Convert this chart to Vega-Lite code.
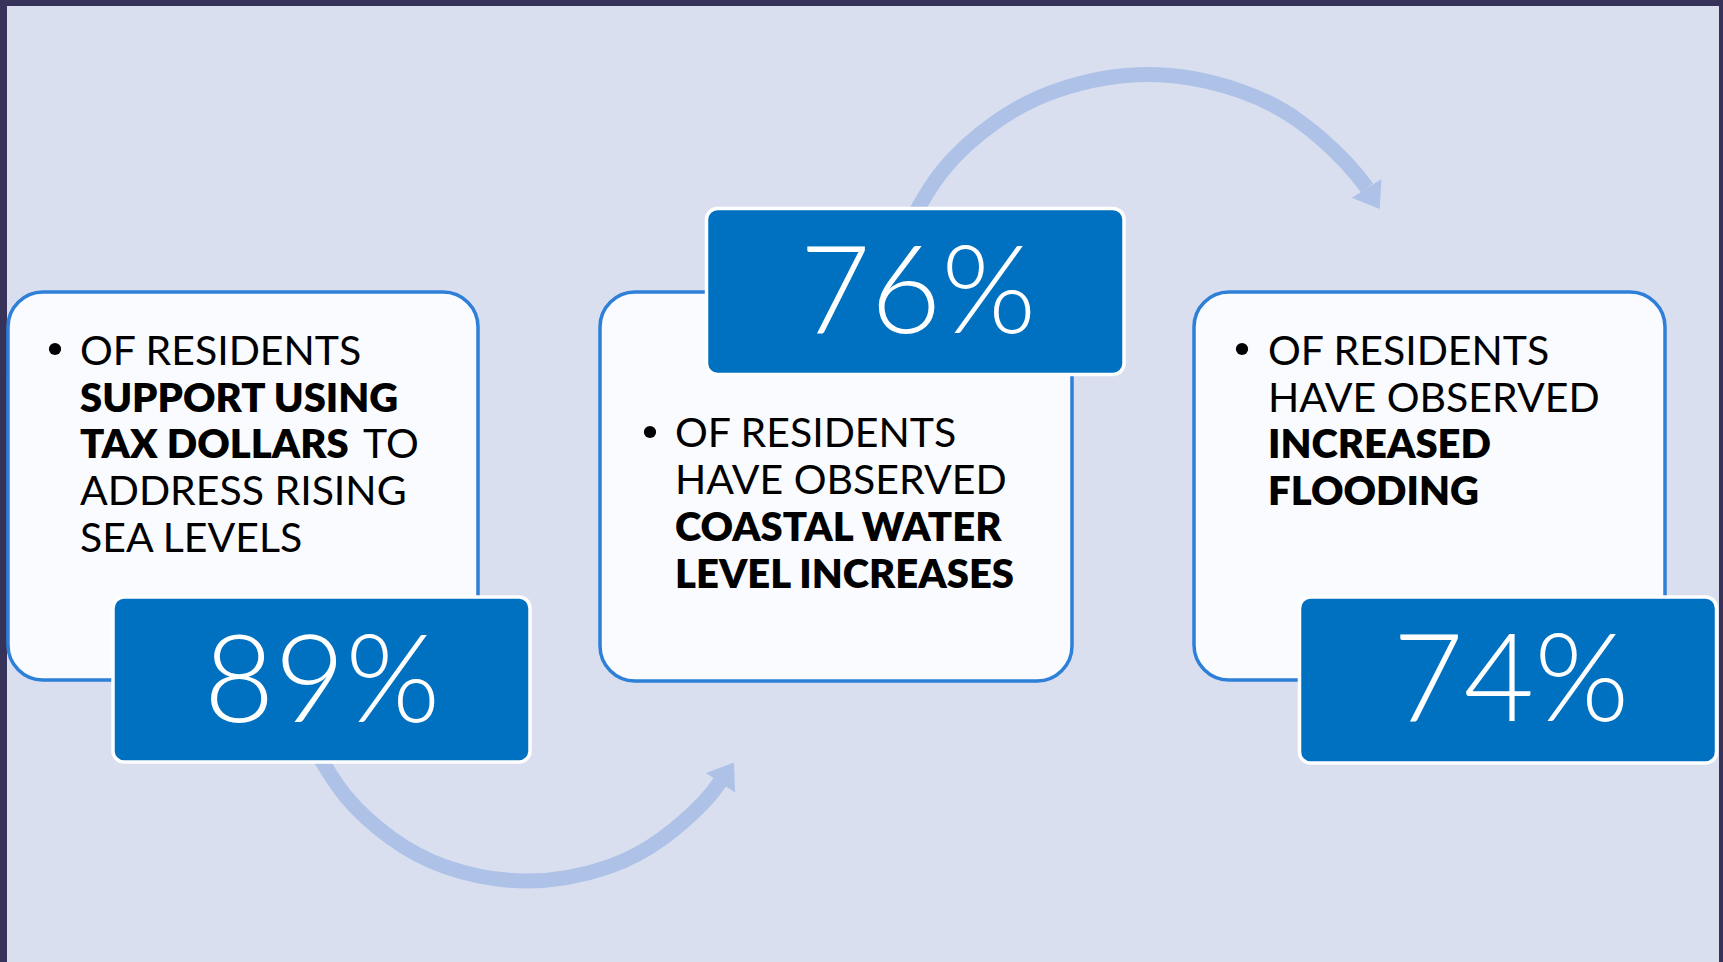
{
  "$schema": "https://vega.github.io/schema/vega-lite/v6.json",
  "width": 1723,
  "height": 962,
  "autosize": {"type": "fit", "contains": "padding"},
  "padding": 0,
  "background": "#37325a",
  "config": {"view": {"stroke": null}},
  "datasets": {
    "bg": [{"x": 7, "x2": 1719, "y": 6, "y2": 962}],
    "arcs": [
      {"arc": "bottom", "i": 0, "x": 312, "y": 744},
      {"arc": "bottom", "i": 1, "x": 345.5, "y": 796},
      {"arc": "bottom", "i": 2, "x": 391, "y": 838},
      {"arc": "bottom", "i": 3, "x": 446, "y": 867},
      {"arc": "bottom", "i": 4, "x": 527, "y": 881},
      {"arc": "bottom", "i": 5, "x": 608, "y": 867},
      {"arc": "bottom", "i": 6, "x": 663, "y": 838},
      {"arc": "bottom", "i": 7, "x": 703, "y": 803},
      {"arc": "bottom", "i": 8, "x": 720, "y": 782},
      {"arc": "top", "i": 0, "x": 907, "y": 228},
      {"arc": "top", "i": 1, "x": 944, "y": 169},
      {"arc": "top", "i": 2, "x": 995, "y": 122.5},
      {"arc": "top", "i": 3, "x": 1057, "y": 90.5},
      {"arc": "top", "i": 4, "x": 1148, "y": 74.5},
      {"arc": "top", "i": 5, "x": 1239, "y": 90.5},
      {"arc": "top", "i": 6, "x": 1301, "y": 122.5},
      {"arc": "top", "i": 7, "x": 1346, "y": 162.5},
      {"arc": "top", "i": 8, "x": 1367, "y": 188}
    ],
    "heads": [
      {"x": 725, "y": 776, "ang": 33.6},
      {"x": 1371, "y": 195.3, "ang": 147.7}
    ],
    "cards": [
      {"x": 8, "x2": 478, "y": 292, "y2": 680},
      {"x": 600, "x2": 1072, "y": 292, "y2": 681},
      {"x": 1194, "x2": 1665, "y": 292, "y2": 680}
    ],
    "boxes": [
      {"x": 113, "x2": 530, "y": 597, "y2": 762},
      {"x": 706.5, "x2": 1124, "y": 208.5, "y2": 374.5},
      {"x": 1299.5, "x2": 1716.5, "y": 597, "y2": 763}
    ],
    "bullets": [
      {"x": 55, "y": 349},
      {"x": 650, "y": 432},
      {"x": 1242, "y": 349}
    ],
    "texts": [
      {"t": "OF RESIDENTS", "x": 80, "y": 365, "w": "r"},
      {"t": "SUPPORT USING", "x": 80, "y": 412, "w": "b"},
      {"t": "TAX DOLLARS", "x": 80, "y": 458, "w": "b"},
      {"t": "TO", "x": 363, "y": 458, "w": "r"},
      {"t": "ADDRESS RISING", "x": 80, "y": 505, "w": "r"},
      {"t": "SEA LEVELS", "x": 80, "y": 552, "w": "r"},
      {"t": "OF RESIDENTS", "x": 675, "y": 447, "w": "r"},
      {"t": "HAVE OBSERVED", "x": 675, "y": 494, "w": "r"},
      {"t": "COASTAL WATER", "x": 675, "y": 541, "w": "b"},
      {"t": "LEVEL INCREASES", "x": 675, "y": 588, "w": "b"},
      {"t": "OF RESIDENTS", "x": 1268, "y": 365, "w": "r"},
      {"t": "HAVE OBSERVED", "x": 1268, "y": 412, "w": "r"},
      {"t": "INCREASED", "x": 1268, "y": 458, "w": "b"},
      {"t": "FLOODING", "x": 1268, "y": 505, "w": "b"}
    ],
    "pcts": [
      {"t": "89%", "x": 322, "y": 722},
      {"t": "76%", "x": 918, "y": 333},
      {"t": "74%", "x": 1511, "y": 721}
    ]
  },
  "layer": [
    {
      "data": {"name": "bg"},
      "mark": {"type": "rect", "fill": "#dadff0"},
      "encoding": {
        "x": {"field": "x", "type": "quantitative", "scale": {"domain": [0, 1723], "nice": false, "zero": false}, "axis": null},
        "x2": {"field": "x2"},
        "y": {"field": "y", "type": "quantitative", "scale": {"domain": [0, 962], "nice": false, "zero": false, "reverse": true}, "axis": null},
        "y2": {"field": "y2"}
      }
    },
    {
      "data": {"name": "arcs"},
      "mark": {"type": "line", "interpolate": "natural", "strokeWidth": 15, "color": "#aec2e8", "strokeCap": "butt"},
      "encoding": {
        "x": {"field": "x", "type": "quantitative", "axis": null},
        "y": {"field": "y", "type": "quantitative", "axis": null},
        "detail": {"field": "arc"},
        "order": {"field": "i", "type": "quantitative"}
      }
    },
    {
      "data": {"name": "heads"},
      "mark": {"type": "point", "shape": "M0,-0.93L1,0.465L-1,0.465Z", "filled": true, "color": "#aec2e8", "size": 1225, "opacity": 1, "strokeWidth": 0},
      "encoding": {
        "x": {"field": "x", "type": "quantitative", "axis": null},
        "y": {"field": "y", "type": "quantitative", "axis": null},
        "angle": {"field": "ang", "type": "quantitative", "scale": null}
      }
    },
    {
      "data": {"name": "cards"},
      "mark": {"type": "rect", "cornerRadius": 35, "fill": "#fafbfe", "stroke": "#2e7fd8", "strokeWidth": 3.5},
      "encoding": {
        "x": {"field": "x", "type": "quantitative", "axis": null},
        "x2": {"field": "x2"},
        "y": {"field": "y", "type": "quantitative", "axis": null},
        "y2": {"field": "y2"}
      }
    },
    {
      "data": {"name": "boxes"},
      "mark": {"type": "rect", "cornerRadius": 11, "fill": "#0070c0", "stroke": "#ffffff", "strokeWidth": 3.5},
      "encoding": {
        "x": {"field": "x", "type": "quantitative", "axis": null},
        "x2": {"field": "x2"},
        "y": {"field": "y", "type": "quantitative", "axis": null},
        "y2": {"field": "y2"}
      }
    },
    {
      "data": {"name": "bullets"},
      "mark": {"type": "point", "shape": "circle", "filled": true, "color": "#000000", "size": 150, "opacity": 1},
      "encoding": {
        "x": {"field": "x", "type": "quantitative", "axis": null},
        "y": {"field": "y", "type": "quantitative", "axis": null}
      }
    },
    {
      "data": {"name": "texts"},
      "transform": [{"filter": "datum.w == 'r'"}],
      "mark": {"type": "text", "align": "left", "baseline": "alphabetic", "font": "Lato", "fontSize": 41, "fontWeight": 400, "color": "#000000"},
      "encoding": {
        "x": {"field": "x", "type": "quantitative", "axis": null},
        "y": {"field": "y", "type": "quantitative", "axis": null},
        "text": {"field": "t"}
      }
    },
    {
      "data": {"name": "texts"},
      "transform": [{"filter": "datum.w == 'b'"}],
      "mark": {"type": "text", "align": "left", "baseline": "alphabetic", "font": "Lato", "fontSize": 40, "fontWeight": 800, "color": "#000000"},
      "encoding": {
        "x": {"field": "x", "type": "quantitative", "axis": null},
        "y": {"field": "y", "type": "quantitative", "axis": null},
        "text": {"field": "t"}
      }
    },
    {
      "data": {"name": "pcts"},
      "mark": {"type": "text", "align": "center", "baseline": "alphabetic", "font": "Lato", "fontSize": 122, "fontWeight": 300, "color": "#ffffff"},
      "encoding": {
        "x": {"field": "x", "type": "quantitative", "axis": null},
        "y": {"field": "y", "type": "quantitative", "axis": null},
        "text": {"field": "t"}
      }
    }
  ]
}
